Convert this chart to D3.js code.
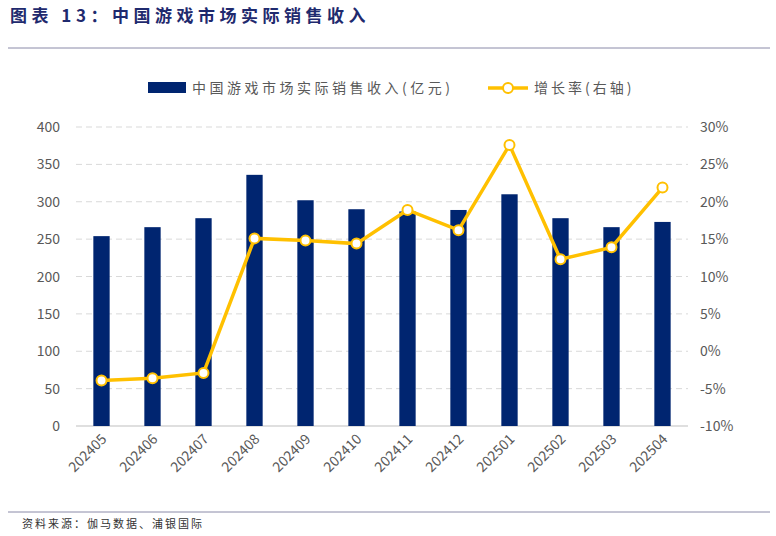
<!DOCTYPE html>
<html><head><meta charset="utf-8">
<script src="https://cdn.jsdelivr.net/npm/d3@7"></script>
<style>body{margin:0;background:#fff;font-family:"Noto Sans CJK SC","Noto Sans",sans-serif;}</style>
</head><body><div id="chart"></div>
<script>
const months = ["202405","202406","202407","202408","202409","202410","202411","202412","202501","202502","202503","202504"];
const revenue = [254, 266, 278, 336, 302, 290, 287, 289, 310, 278, 266, 273];
const growth = [-3.9, -3.6, -2.9, 15.1, 14.8, 14.4, 18.9, 16.2, 27.6, 12.3, 13.9, 21.9];
const leftTicks = [0, 50, 100, 150, 200, 250, 300, 350, 400];
const rightTicks = [-10, -5, 0, 5, 10, 15, 20, 25, 30];

const W = 776, H = 536;
const svg = d3.select("#chart").append("svg").attr("width", W).attr("height", H);

svg.append("text").attr("x", 10).attr("y", 22).attr("fill", "#1f2a6e")
    .attr("font-weight", "bold").attr("font-size", 17).attr("letter-spacing", 4.5)
    .text("图表 13：中国游戏市场实际销售收入");
svg.append("line").attr("x1", 8).attr("x2", 770).attr("y1", 48).attr("y2", 48).attr("stroke", "#8a8aa8");
svg.append("line").attr("x1", 8).attr("x2", 770).attr("y1", 512).attr("y2", 512).attr("stroke", "#8a8aa8");
svg.append("text").attr("x", 22).attr("y", 528).attr("font-size", 11).attr("letter-spacing", 2)
    .attr("fill", "#333").text("资料来源：伽马数据、浦银国际");

const x = d3.scaleBand().domain(months).range([76, 688]).paddingInner(0.68).paddingOuter(0.34);
const yL = d3.scaleLinear().domain([0, 400]).range([426, 127]);
const yR = d3.scaleLinear().domain([-10, 30]).range([426, 127]);

svg.append("g").selectAll("line").data(leftTicks.slice(1)).join("line")
    .attr("x1", 76).attr("x2", 688).attr("y1", d => yL(d)).attr("y2", d => yL(d))
    .attr("stroke", "#d9d9d9").attr("stroke-dasharray", "6,4");
svg.append("line").attr("x1", 76).attr("x2", 688).attr("y1", 426).attr("y2", 426).attr("stroke", "#bfbfbf");

svg.append("g").selectAll("text").data(leftTicks).join("text")
    .attr("x", 60).attr("y", d => yL(d) + 5).attr("text-anchor", "end")
    .attr("font-size", 14).attr("fill", "#595959").text(d => d);
svg.append("g").selectAll("text").data(rightTicks).join("text")
    .attr("x", 700).attr("y", d => yR(d) + 5).attr("font-size", 14).attr("fill", "#595959").text(d => d + "%");

svg.append("g").selectAll("rect").data(months).join("rect")
    .attr("x", d => x(d)).attr("width", x.bandwidth())
    .attr("y", (d, i) => yL(revenue[i])).attr("height", (d, i) => 426 - yL(revenue[i]))
    .attr("fill", "#002570");

const cx = d => x(d) + x.bandwidth() / 2;
const line = d3.line().x(d => cx(d)).y((d, i) => yR(growth[i]));
svg.append("path").datum(months).attr("d", line).attr("fill", "none")
    .attr("stroke", "#ffc000").attr("stroke-width", 3.5);
svg.append("g").selectAll("circle").data(months).join("circle")
    .attr("cx", cx).attr("cy", (d, i) => yR(growth[i])).attr("r", 5)
    .attr("fill", "#fff").attr("stroke", "#ffc000").attr("stroke-width", 2);

svg.append("g").selectAll("text").data(months).join("text")
    .attr("transform", d => `translate(${cx(d) + 6},${440}) rotate(-45)`)
    .attr("text-anchor", "end").attr("font-size", 14).attr("fill", "#595959").text(d => d);

// legend
svg.append("rect").attr("x", 148).attr("y", 82).attr("width", 38).attr("height", 11).attr("fill", "#002570");
svg.append("text").attr("x", 192).attr("y", 93).attr("font-size", 14).attr("letter-spacing", 3.5)
    .attr("fill", "#595959").text("中国游戏市场实际销售收入(亿元)");
svg.append("line").attr("x1", 488).attr("x2", 528).attr("y1", 88).attr("y2", 88).attr("stroke", "#ffc000").attr("stroke-width", 3.5);
svg.append("circle").attr("cx", 508).attr("cy", 88).attr("r", 5).attr("fill", "#fff").attr("stroke", "#ffc000").attr("stroke-width", 2);
svg.append("text").attr("x", 534).attr("y", 93).attr("font-size", 14).attr("letter-spacing", 3)
    .attr("fill", "#595959").text("增长率(右轴)");
</script></body></html>
